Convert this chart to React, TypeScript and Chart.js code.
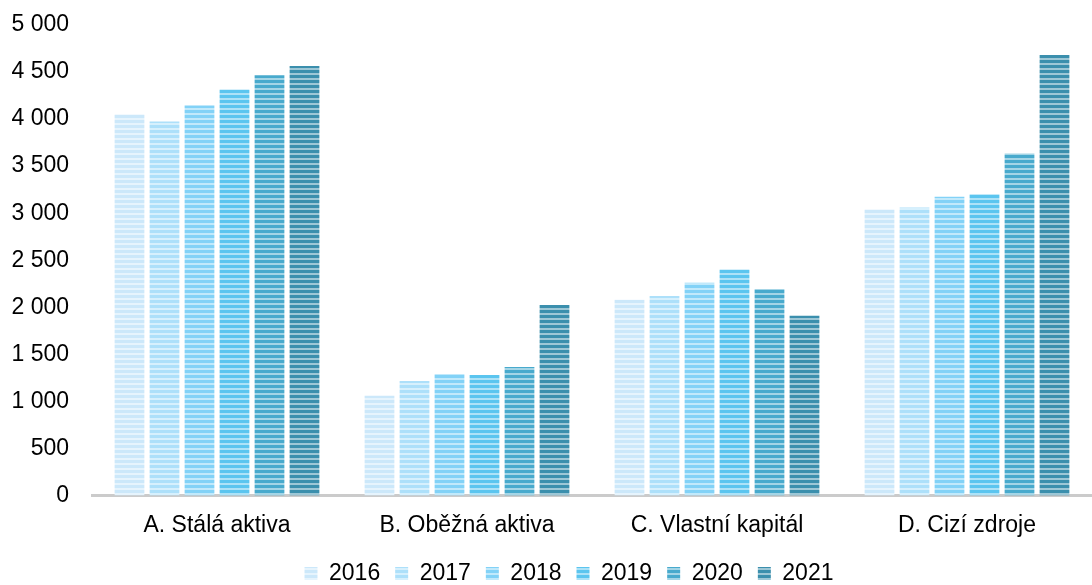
import React, { useEffect, useRef } from "react";
import { Chart, registerables } from "chart.js";

Chart.register(...registerables);

const categories = ["A. Stálá aktiva", "B. Oběžná aktiva", "C. Vlastní kapitál", "D. Cizí zdroje"];
const years = ["2016", "2017", "2018", "2019", "2020", "2021"];
const v2016 = [4050, 1060, 2080, 3040];
const v2017 = [3975, 1215, 2120, 3060];
const v2018 = [4145, 1290, 2260, 3175];
const v2019 = [4315, 1280, 2400, 3200];
const v2020 = [4465, 1365, 2195, 3635];
const v2021 = [4565, 2025, 1910, 4680];
const seriesValues = [v2016, v2017, v2018, v2019, v2020, v2021];
const baseColors = ["#cce8fa", "#ade0fa", "#82d2f7", "#5bc5ef", "#48aacd", "#3b8fad"];
const yTicks = [0, 500, 1000, 1500, 2000, 2500, 3000, 3500, 4000, 4500, 5000];

function makePattern(color: string): CanvasPattern | string {
  const c = document.createElement("canvas");
  c.width = 4;
  c.height = 5;
  const ctx = c.getContext("2d");
  if (!ctx) return color;
  ctx.fillStyle = color;
  ctx.fillRect(0, 0, 4, 5);
  ctx.fillStyle = "rgba(255,255,255,0.5)";
  ctx.fillRect(0, 3, 4, 2);
  const p = ctx.createPattern(c, "repeat");
  return p || color;
}

const legendShift = {
  id: "legendShift",
  afterLayout(chart: any) {
    const lg = chart.legend;
    if (lg) {
      lg.left += 23;
      lg.right += 23;
    }
  },
};

const FONT = "'Liberation Sans', Arial, sans-serif";

export default function App() {
  const ref = useRef<HTMLCanvasElement>(null);
  useEffect(() => {
    if (!ref.current) return;
    const datasets = years.map((y, i) => ({
      label: y,
      data: seriesValues[i],
      backgroundColor: makePattern(baseColors[i]),
      borderWidth: 0,
      categoryPercentage: 0.84,
      barPercentage: 0.85,
    }));
    const chart = new Chart(ref.current, {
      type: "bar",
      data: { labels: categories, datasets },
      plugins: [legendShift],
      options: {
        animation: false,
        responsive: false,
        maintainAspectRatio: false,
        layout: { padding: { left: 0, right: 0, top: 25, bottom: -10 } },
        plugins: {
          tooltip: { enabled: false },
          legend: {
            position: "bottom",
            labels: {
              color: "#000",
              font: { family: FONT, size: 23 },
              boxWidth: 13,
              boxHeight: 13,
              padding: 15,
            },
          },
        },
        scales: {
          x: {
            grid: { display: false },
            border: { display: true, color: "#cbcbcb", width: 3 },
            ticks: {
              color: "#000",
              font: { family: FONT, size: 23 },
              padding: 8,
            },
          },
          y: {
            min: 0,
            max: 5000,
            afterBuildTicks: (scale: any) => {
              scale.ticks = yTicks.map((v) => ({ value: v }));
            },
            afterFit: (scale: any) => {
              scale.width = 92;
              scale.paddingTop = 0;
              scale.paddingBottom = 0;
            },
            grid: { display: false, drawTicks: false },
            border: { display: false },
            ticks: {
              color: "#000",
              font: { family: FONT, size: 23 },
              padding: 23,
              callback: (v: any) => String(v).replace(/\B(?=(\d{3})+(?!\d))/g, " "),
            },
          },
        },
      },
    });
    return () => chart.destroy();
  }, []);
  return (
    <div style={{ position: "fixed", left: 0, top: 0, width: 1092, height: 585, background: "#fff" }}>
      <canvas ref={ref} width={1092} height={585} />
    </div>
  );
}
